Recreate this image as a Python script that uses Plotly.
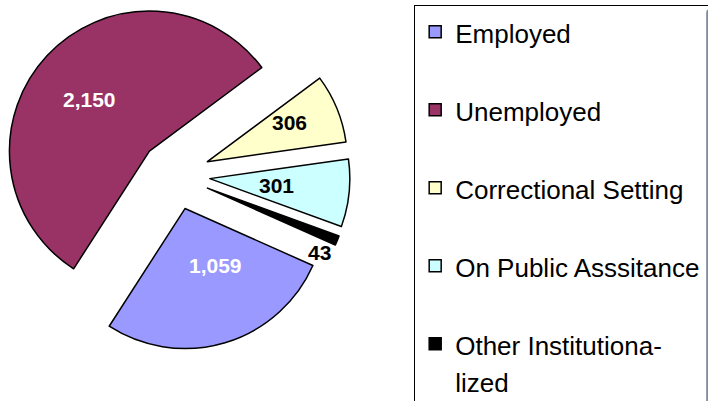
import math
import plotly.graph_objects as go

# ---- data ----
categories = ["Employed", "Unemployed", "Correctional Setting",
              "On Public Asssitance", "Other Institutiona-<br>lized"]
values = [1059, 2150, 306, 301, 43]

# ---- styles ----
colors = ["#9999FF", "#993366", "#FFFFCC", "#CCFFFF", "#000000"]
text_colors = ["white", "white", "black", "black", "black"]
PULL = 0.25
ROTATION = 114
# label placement: radial fraction of radius and angular tweak (deg)
label_rfrac = [0.46, 0.565, 0.65, 0.48, 0.92]
label_dang = [-12, -2, -3, 0, 8]

FONT = "Liberation Sans, Arial, sans-serif"
LEG_TEXT = 26
LEG_BASE = 28.85

W, H = 708, 401
DOM_X = [0, 350 / W]
DOM_Y = [1 - 350 / H, 1]

legend_labels = []
for c in categories:
    lab = f'<span style="font-size:{LEG_TEXT}px">{c}</span>'
    if "<br>" not in c:
        lab += "<br> "
    legend_labels.append(lab)

fig = go.Figure(go.Pie(
    labels=legend_labels,
    values=values,
    sort=False,
    direction="clockwise",
    rotation=ROTATION,
    pull=PULL,
    marker=dict(colors=colors, line=dict(color="black", width=1.5)),
    textinfo="none",
    domain=dict(x=DOM_X, y=DOM_Y),
    hoverinfo="label+value",
))

# value labels placed from slice geometry (derived from values)
side = min((DOM_X[1] - DOM_X[0]) * W, (DOM_Y[1] - DOM_Y[0]) * H)
r = side / (2 * (1 + PULL))
cx = (DOM_X[0] + DOM_X[1]) / 2 * W
cy = (1 - (DOM_Y[0] + DOM_Y[1]) / 2) * H
total = sum(values)
cum = 0
for v, col, rf, da in zip(values, text_colors, label_rfrac, label_dang):
    mid = ROTATION + (cum + v / 2) / total * 360  # clockwise from 12 o'clock
    cum += v
    t = math.radians(mid)
    tx = cx + PULL * r * math.sin(t)
    ty = cy - PULL * r * math.cos(t)
    t2 = math.radians(mid + da)
    lx = tx + rf * r * math.sin(t2)
    ly = ty - rf * r * math.cos(t2)
    fig.add_annotation(
        x=lx / W, y=1 - ly / H, xref="paper", yref="paper",
        text=f"{v:,}", showarrow=False,
        font=dict(family=FONT, size=21, color=col, weight="bold"),
        xanchor="center", yanchor="middle",
    )

fig.update_layout(
    width=W, height=H,
    margin=dict(l=0, r=0, t=0, b=0, autoexpand=False),
    paper_bgcolor="white", plot_bgcolor="white",
    showlegend=True,
    legend=dict(
        x=0.585, y=0.9865, xanchor="left", yanchor="top",
        bordercolor="black", borderwidth=1, bgcolor="white",
        font=dict(family=FONT, size=LEG_BASE, color="black"),
        valign="top", traceorder="normal",
    ),
)

fig.write_html("out.html", config={"displayModeBar": False},
               post_script="document.body.style.margin='0';document.body.style.overflow='hidden';")
